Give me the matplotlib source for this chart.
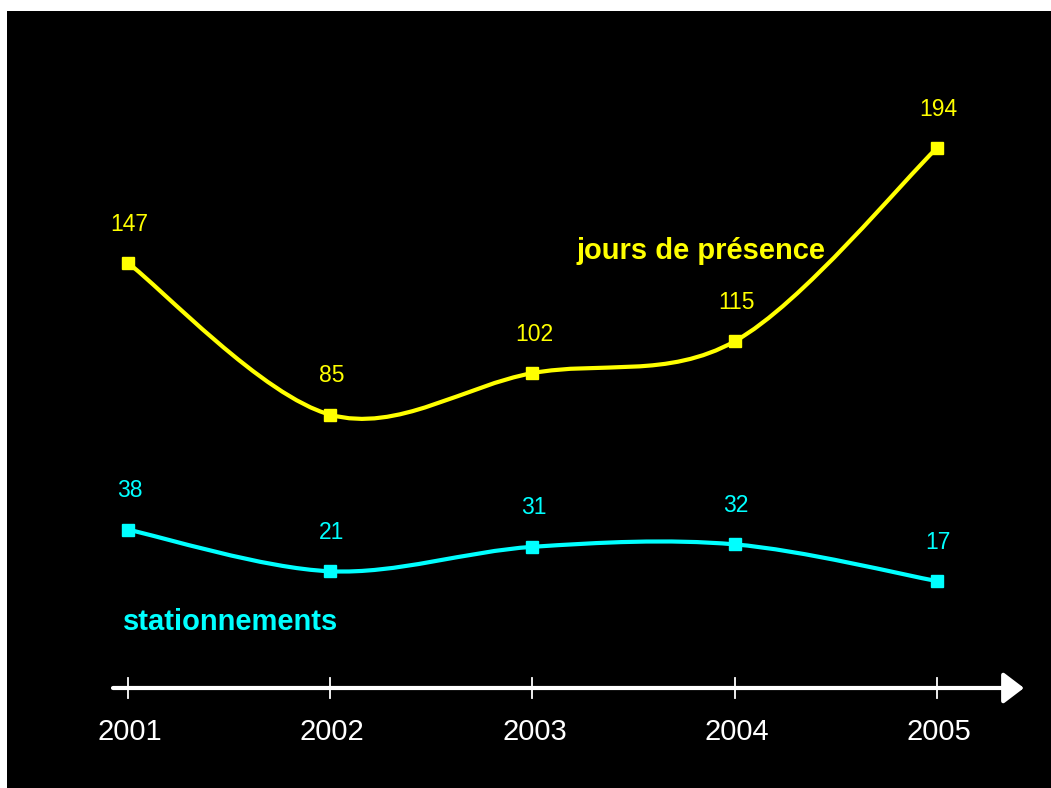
import numpy as np
import matplotlib.pyplot as plt
from matplotlib.path import Path
from matplotlib.patches import PathPatch, Rectangle

years = [2001, 2002, 2003, 2004, 2005]
presence = [147, 85, 102, 115, 194]
stationnements = [38, 21, 31, 32, 17]

YELLOW = '#FFFF00'
CYAN = '#00FFFF'

W, H = 1051, 788
fig = plt.figure(figsize=(W / 100, H / 100), dpi=100, facecolor='white')
ax = fig.add_axes([0, 0, 1, 1])
ax.set_facecolor('none')
ax.axis('off')
# black slide area, white margin on top and left
ax.add_patch(Rectangle((7 / W, 0), 1, 1 - 11 / H, transform=ax.transAxes,
                       facecolor='black', edgecolor='none', zorder=0, clip_on=False))

# pixel -> data mapping (2001 at x=128, 2005 at x=937; 147 at y=263, 194 at y=148)
px_per_year = (937 - 128) / 4
px_per_unit = (263 - 148) / (194 - 147)
x0 = 2001 - 128 / px_per_year
ytop = 147 + 263 / px_per_unit
ax.set_xlim(x0, x0 + W / px_per_year)
ax.set_ylim(ytop - H / px_per_unit, ytop)


def smooth_path(xs, ys):
    # Catmull-Rom style bezier through the points (like office "smoothed line")
    pts = np.column_stack([xs, ys]).astype(float)
    n = len(pts)
    verts = [pts[0]]
    codes = [Path.MOVETO]
    for i in range(n - 1):
        p0 = pts[max(i - 1, 0)]
        p1 = pts[i]
        p2 = pts[i + 1]
        p3 = pts[min(i + 2, n - 1)]
        c1 = p1 + (p2 - p0) / 6
        c2 = p2 - (p3 - p1) / 6
        verts += [c1, c2, p2]
        codes += [Path.CURVE4] * 3
    return Path(verts, codes)


for vals, col in [(presence, YELLOW), (stationnements, CYAN)]:
    ax.add_patch(PathPatch(smooth_path(years, vals), facecolor='none',
                           edgecolor=col, lw=3, capstyle='round', zorder=3))
    ax.plot(years, vals, ls='none', marker='s', ms=9.3, color=col, zorder=4)
    for x, v in zip(years, vals):
        ax.annotate(str(v), (x, v), xytext=(1, 28), textcoords='offset points',
                    ha='center', va='center', color=col, fontsize=16.5,
                    family='Liberation Sans')

# series names
ax.text(576 / W, 1 - 251 / H, 'jours de présence', transform=ax.transAxes,
        color=YELLOW, fontsize=21, fontweight='bold', family='Liberation Sans',
        ha='left', va='center')
ax.text(123 / W, 1 - 622 / H, 'stationnements', transform=ax.transAxes,
        color=CYAN, fontsize=21, fontweight='bold', family='Liberation Sans',
        ha='left', va='center')

# time axis with arrow
y_axis = ytop - 688 / px_per_unit
x_start = x0 + 113 / px_per_year
x_end = x0 + 1024 / px_per_year
ax.annotate('', xy=(x_end, y_axis), xytext=(x_start, y_axis),
            arrowprops=dict(arrowstyle='-|>,head_length=1.25,head_width=0.95',
                            mutation_scale=10, color='white', lw=3,
                            shrinkA=0, shrinkB=0))
tick_h = 10 / px_per_unit
for x in years:
    ax.plot([x, x], [y_axis - tick_h, y_axis + tick_h], color='white', lw=1.3)
    ax.text(x + 0.01, ytop - 732 / px_per_unit, str(x), color='white', fontsize=21,
            family='Liberation Sans', ha='center', va='center')

fig.savefig('out.png', dpi=100, facecolor='white')
